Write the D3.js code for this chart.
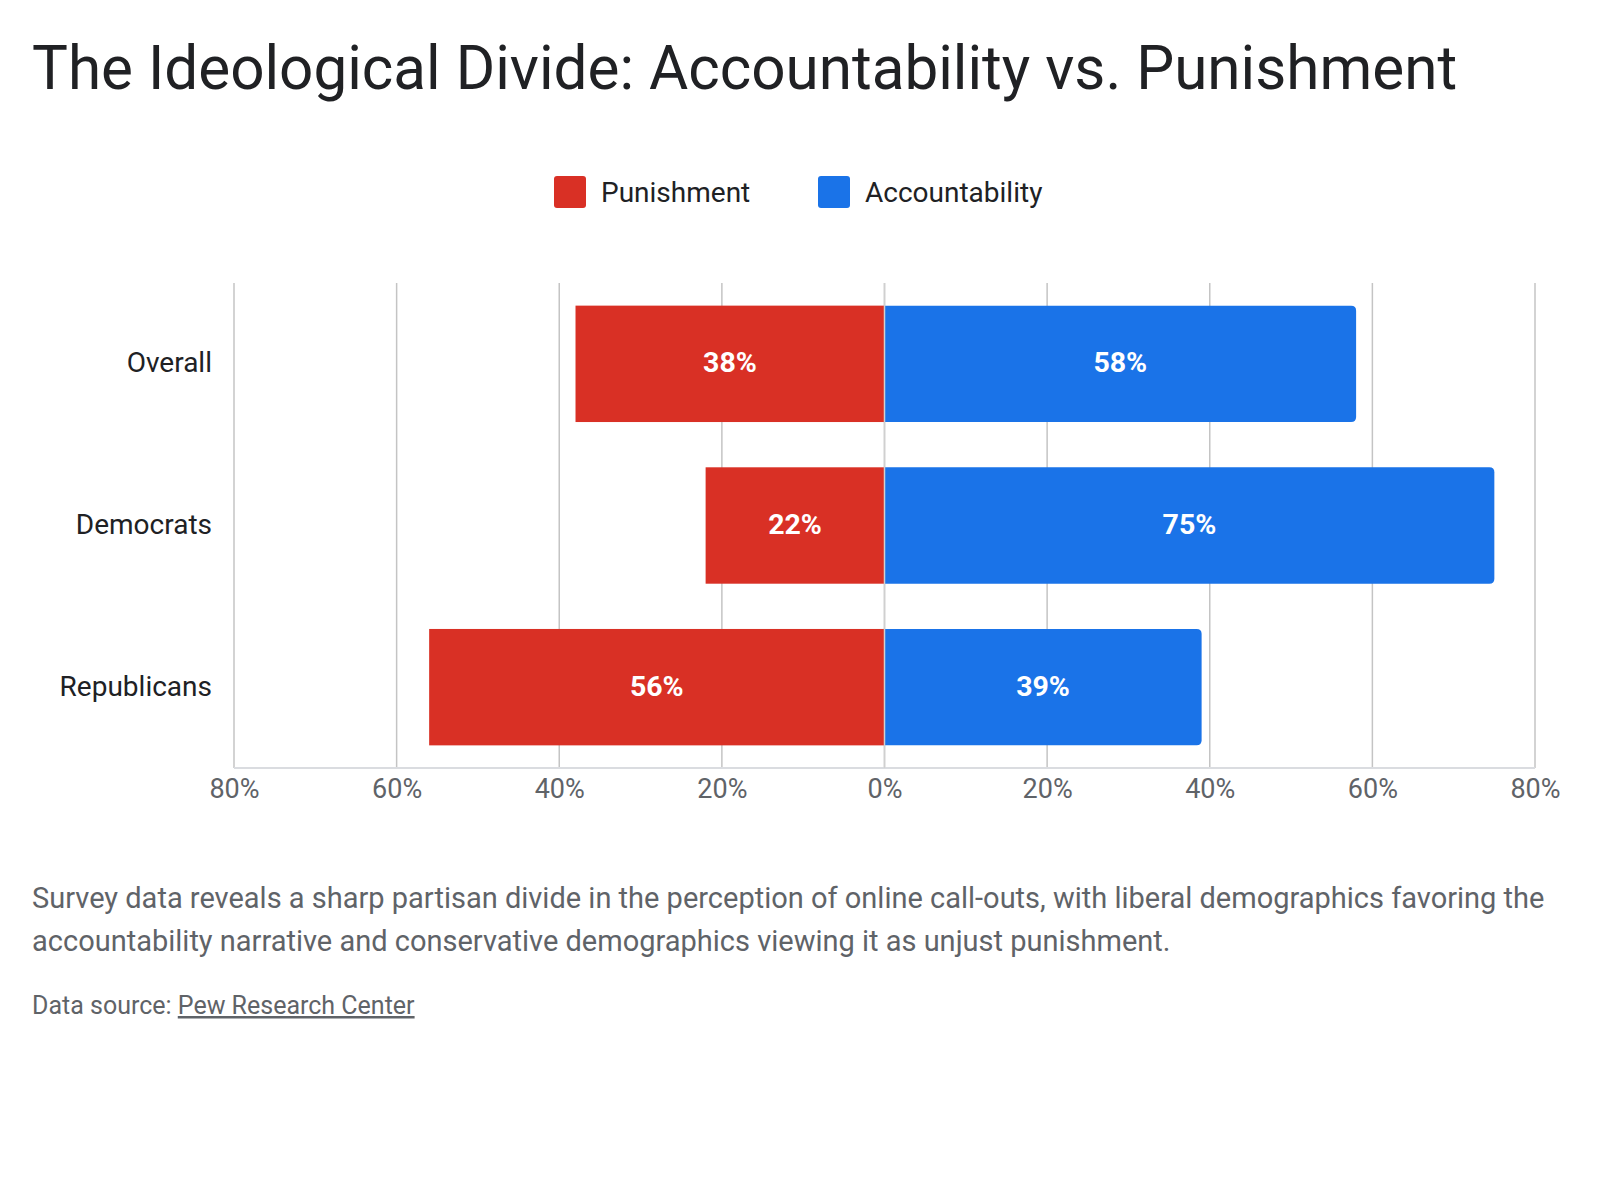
<!DOCTYPE html>
<html lang="en">
<head>
<meta charset="UTF-8">
<title>The Ideological Divide</title>
<script src="https://d3js.org/d3.v7.min.js"></script>
<style>
  body { margin: 0; background: #fff; }
  svg text { font-family: Roboto, "Noto Sans", sans-serif; }
</style>
</head>
<body>
<script>
// data
const categories = ["Overall", "Democrats", "Republicans"];
const punishment = [38, 22, 56];
const accountability = [58, 75, 39];
const seriesNames = ["Punishment", "Accountability"];
const seriesColors = ["#d93025", "#1a73e8"];
const tickValues = [-80, -60, -40, -20, 0, 20, 40, 60, 80];

const width = 1600, height = 1200;
const margin = { left: 234, right: 65, top: 283, bottom: 432 };

const svg = d3.select("body").append("svg")
  .attr("width", width)
  .attr("height", height);

// title
svg.append("text")
  .attr("x", 32)
  .attr("y", 89)
  .attr("font-size", 60.2)
  .attr("fill", "#202124")
  .text("The Ideological Divide: Accountability vs. Punishment");

// legend
const legend = svg.append("g").attr("transform", "translate(554, 176)");
const legendX = [0, 264];
seriesNames.forEach((name, i) => {
  const g = legend.append("g").attr("transform", `translate(${legendX[i]},0)`);
  g.append("rect").attr("width", 32).attr("height", 32).attr("rx", 3).attr("fill", seriesColors[i]);
  g.append("text").attr("x", 47).attr("y", 16).attr("dy", "0.35em")
    .attr("font-size", 28).attr("fill", "#202124").text(name);
});

const x = d3.scaleLinear()
  .domain([-80, 80])
  .range([margin.left, width - margin.right]);

const y = d3.scaleBand()
  .domain(categories)
  .range([margin.top, height - margin.bottom])
  .paddingInner(0.28)
  .paddingOuter(0.14);

// gridlines
svg.append("g")
  .selectAll("line")
  .data(tickValues)
  .join("line")
  .attr("x1", d => x(d)).attr("x2", d => x(d))
  .attr("y1", margin.top).attr("y2", height - margin.bottom)
  .attr("stroke", "#c4c4c4")
  .attr("stroke-width", 1.5);

// baseline
svg.append("line")
  .attr("x1", x(-80)).attr("x2", x(80))
  .attr("y1", height - margin.bottom).attr("y2", height - margin.bottom)
  .attr("stroke", "#dadce0").attr("stroke-width", 2);

// punishment bars (to the left)
svg.append("g")
  .selectAll("rect")
  .data(categories)
  .join("rect")
  .attr("x", (d, i) => x(-punishment[i]))
  .attr("y", d => y(d))
  .attr("width", (d, i) => x(0) - x(-punishment[i]))
  .attr("height", y.bandwidth())
  .attr("fill", seriesColors[0]);

// accountability bars (to the right, rounded end)
const r = 5;
svg.append("g")
  .selectAll("path")
  .data(categories)
  .join("path")
  .attr("d", (d, i) => {
    const x0 = x(0), x1 = x(accountability[i]), y0 = y(d), y1 = y(d) + y.bandwidth();
    return `M${x0},${y0}H${x1 - r}Q${x1},${y0} ${x1},${y0 + r}V${y1 - r}Q${x1},${y1} ${x1 - r},${y1}H${x0}Z`;
  })
  .attr("fill", seriesColors[1]);

// zero line over bars
svg.append("line")
  .attr("x1", x(0)).attr("x2", x(0))
  .attr("y1", margin.top).attr("y2", height - margin.bottom)
  .attr("stroke", "#d0d0d0").attr("stroke-width", 1.5);

// value labels
const labels = svg.append("g")
  .attr("font-size", 28.5)
  .attr("font-weight", "bold")
  .attr("fill", "#fff")
  .attr("text-anchor", "middle");
categories.forEach((c, i) => {
  labels.append("text")
    .attr("x", (x(-punishment[i]) + x(0)) / 2)
    .attr("y", y(c) + y.bandwidth() / 2)
    .attr("dy", "0.3em")
    .text(punishment[i] + "%");
  labels.append("text")
    .attr("x", (x(0) + x(accountability[i])) / 2)
    .attr("y", y(c) + y.bandwidth() / 2)
    .attr("dy", "0.3em")
    .text(accountability[i] + "%");
});

// category labels
svg.append("g")
  .selectAll("text")
  .data(categories)
  .join("text")
  .attr("x", 212)
  .attr("y", d => y(d) + y.bandwidth() / 2)
  .attr("dy", "0.3em")
  .attr("text-anchor", "end")
  .attr("font-size", 28)
  .attr("fill", "#202124")
  .text(d => d);

// x axis
const xAxis = svg.append("g")
  .attr("transform", `translate(0,${height - margin.bottom})`)
  .call(d3.axisBottom(x).tickValues(tickValues).tickFormat(d => Math.abs(d) + "%").tickSize(0).tickPadding(11));
xAxis.select(".domain").remove();
xAxis.selectAll("text")
  .attr("font-size", 27)
  .attr("font-family", "Roboto, sans-serif")
  .attr("fill", "#5f6368");

// description
const desc = svg.append("text")
  .attr("x", 32)
  .attr("font-size", 29)
  .attr("fill", "#5f6368");
desc.append("tspan").attr("x", 32).attr("y", 908)
  .text("Survey data reveals a sharp partisan divide in the perception of online call-outs, with liberal demographics favoring the");
desc.append("tspan").attr("x", 32).attr("y", 951)
  .text("accountability narrative and conservative demographics viewing it as unjust punishment.");

const src = svg.append("text")
  .attr("x", 32).attr("y", 1014)
  .attr("font-size", 25)
  .attr("fill", "#5f6368");
src.append("tspan").text("Data source: ");
src.append("tspan").attr("text-decoration", "underline").text("Pew Research Center");
</script>
</body>
</html>
